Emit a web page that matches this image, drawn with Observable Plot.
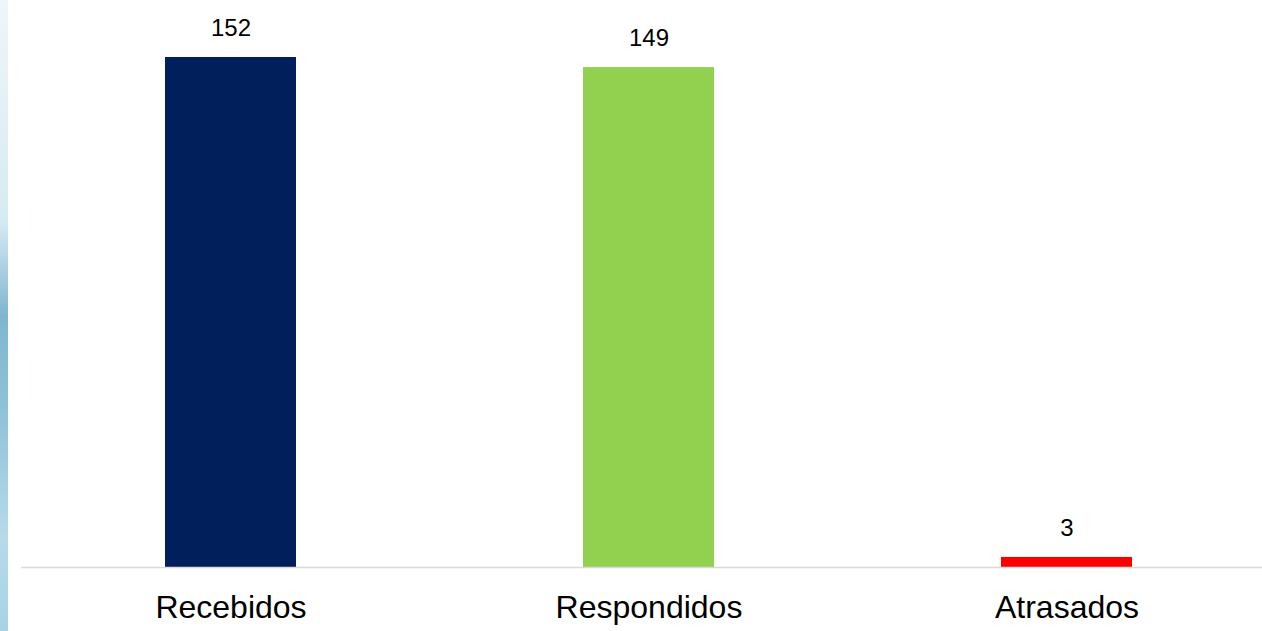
<!DOCTYPE html>
<html>
<head>
<meta charset="utf-8">
<script src="https://cdn.jsdelivr.net/npm/d3@7"></script>
<script src="https://cdn.jsdelivr.net/npm/@observablehq/plot@0.6"></script>
<style>
  html, body { margin: 0; padding: 0; background: #fff; overflow: hidden; }
  #wrap { position: relative; width: 1262px; height: 631px; }
  #stripe { position: absolute; left: 0; top: 0; width: 8px; height: 631px;
    background: linear-gradient(to bottom, #eef6f9 0%, #d6ebf2 35%, #7fb6cf 50%, #8fc2d8 65%, #b5dbe9 85%, #a8d3e4 100%); }
  #chart { position: absolute; left: 0; top: 0; }
</style>
</head>
<body>
<div id="wrap"><div id="stripe"></div><div id="chart"></div></div>
<script>
const categories = ["Recebidos", "Respondidos", "Atrasados"];
const values = [152, 149, 3];
const colors = ["#001f5b", "#92d050", "#ff0000"];

const data = categories.map((c, i) => ({category: c, value: values[i], color: colors[i]}));

const chart = Plot.plot({
  width: 1262,
  height: 631,
  marginLeft: 21,
  marginRight: 0,
  marginTop: 0,
  marginBottom: 64,
  style: {background: "transparent", fontFamily: "Liberation Sans, Arial, sans-serif"},
  x: {domain: categories, range: [21.5, 1275.5], paddingInner: 0.687, paddingOuter: 0.3435, label: null},
  y: {domain: [0, 152], range: [567, 57], axis: null},
  marks: [
    Plot.barY(data, {x: "category", y: "value", fill: "color"}),
    Plot.ruleY([0], {stroke: "#d9d9d9", strokeWidth: 1.5}),
    Plot.text(data, {x: "category", y: "value", text: d => String(d.value), dy: -29, fontSize: 24, fill: "#000"}),
    Plot.axisX({tickSize: 0, tickPadding: 0, dy: 28, fontSize: 32, color: "#000", label: null})
  ]
});
document.getElementById("chart").appendChild(chart);
</script>
</body>
</html>
